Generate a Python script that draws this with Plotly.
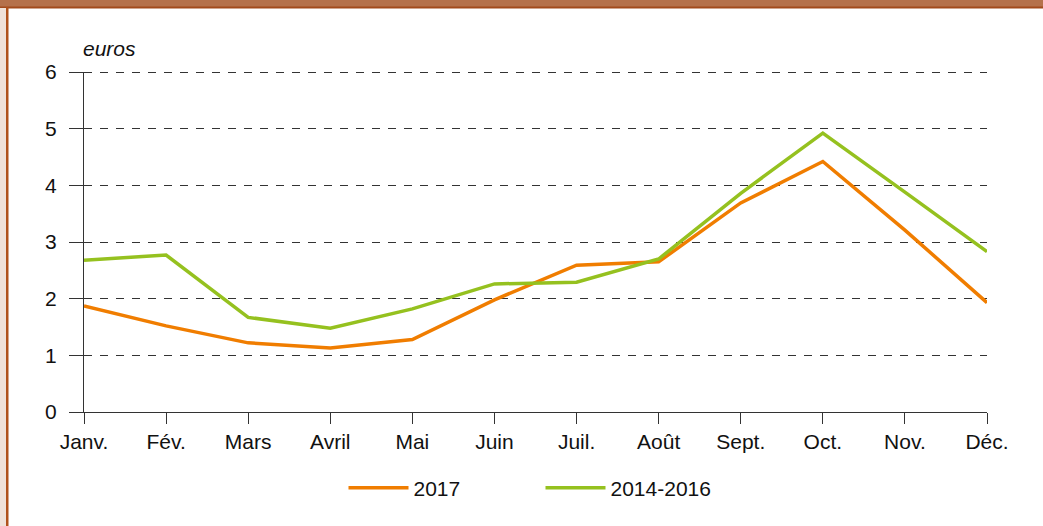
import plotly.graph_objects as go

months = ["Janv.", "Fév.", "Mars", "Avril", "Mai", "Juin", "Juil.", "Août", "Sept.", "Oct.", "Nov.", "Déc."]
s2017 = [1.87, 1.52, 1.22, 1.13, 1.28, 1.98, 2.59, 2.65, 3.69, 4.42, 3.21, 1.93]
s2014_2016 = [2.68, 2.77, 1.67, 1.48, 1.82, 2.26, 2.29, 2.70, 3.86, 4.92, 3.88, 2.83]
yticks = [0, 1, 2, 3, 4, 5, 6]

W, H = 1043, 526
L, R, T, B = 84, 56, 72, 114
pw, ph = W - L - R, H - T - B

def px(x):
    return (x - L) / pw

def py(y):
    return (H - B - y) / ph

FONT = "Liberation Sans, Arial, sans-serif"
FS = 21

fig = go.Figure()
fig.add_trace(go.Scatter(x=months, y=s2017, mode="lines", name="2017",
                         line=dict(color="#F07D00", width=3.5)))
fig.add_trace(go.Scatter(x=months, y=s2014_2016, mode="lines", name="2014-2016",
                         line=dict(color="#95C11F", width=3.5)))

shapes = [
    dict(type="rect", xref="paper", yref="paper", x0=px(0), x1=px(W), y0=py(7), y1=py(0),
         fillcolor="#B5714B", line=dict(width=0), layer="above"),
    dict(type="rect", xref="paper", yref="paper", x0=px(0), x1=px(W), y0=py(8.5), y1=py(6.5),
         fillcolor="#A24A1C", line=dict(width=0), layer="above"),
    dict(type="rect", xref="paper", yref="paper", x0=px(0), x1=px(6), y0=py(H), y1=py(8),
         fillcolor="#F0E2D9", line=dict(width=0), layer="above"),
    dict(type="rect", xref="paper", yref="paper", x0=px(6), x1=px(8.5), y0=py(H), y1=py(7),
         fillcolor="#B0521C", line=dict(width=0), layer="above"),
    # top gridline (plotly hides the grid at the range edge); nudged half a pixel for crispness
    dict(type="line", xref="paper", yref="paper", x0=0, x1=1, y0=py(T + 0.5), y1=py(T + 0.5),
         line=dict(color="#333", width=1, dash="8px,8px"), layer="below"),
]

fig.update_layout(
    width=W, height=H,
    margin=dict(l=L, r=R, t=T, b=B, pad=0),
    paper_bgcolor="white", plot_bgcolor="white",
    font=dict(family=FONT, size=FS, color="#111"),
    showlegend=True,
    legend=dict(orientation="h", x=0.5 + 5 / pw, xanchor="center", y=py(488), yanchor="middle",
                font=dict(size=FS, family=FONT, color="#111"),
                entrywidth=122, entrywidthmode="pixels", itemwidth=60),
    xaxis=dict(range=[0, 11], showgrid=False, zeroline=False, showline=True,
               linecolor="#333", linewidth=1, ticks="outside", ticklen=11,
               tickcolor="#333", tickwidth=1, tickfont=dict(size=FS, family=FONT, color="#111"),
               ticklabelstandoff=0),
    yaxis=dict(range=[0, 6], tickvals=yticks, showgrid=True, gridcolor="#333",
               griddash="8px,8px", gridwidth=1, zeroline=False, showline=True,
               linecolor="#333", linewidth=1, ticks="outside", ticklen=14,
               tickcolor="#333", tickwidth=1, tickfont=dict(size=FS, family=FONT, color="#111"),
               ticklabelstandoff=8),
    shapes=shapes,
    annotations=[dict(text="<i>euros</i>", xref="paper", yref="paper", x=px(81), y=py(48),
                      xanchor="left", yanchor="middle", showarrow=False,
                      font=dict(size=FS, family=FONT, color="#111"))],
)

fig.write_html("out.html", config={"displayModeBar": False},
               post_script="document.body.style.margin='0';document.body.style.overflow='hidden';")
